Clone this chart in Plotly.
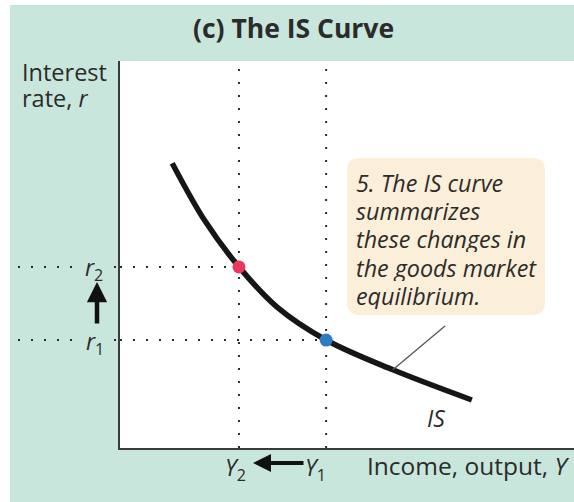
import plotly.graph_objects as go

# ---- data (axis units 0..10) ----
curve_x = [1.15, 1.87, 2.62, 3.46, 4.54, 6.01, 7.75]
curve_y = [7.36, 5.87, 4.68, 3.64, 2.79, 2.02, 1.24]
eq_x = [2.62, 4.54]          # Y2, Y1
eq_y = [4.68, 2.79]          # r2, r1
eq_colors = ["#e8385e", "#2c7cc4"]
box_lines = ["5. The IS curve", "summarizes", "these changes in",
             "the goods market", "equilibrium."]

W, H = 574, 502
L, R, T, B = 120, 0, 61, 54
PW, PH = W - L - R, H - T - B
GREEN = "#c9e6dc"
INK = "#2b2b2b"
FONT = "Open Sans"


def px(x):
    return (x - L) / PW


def py(y):
    return (H - B - y) / PH


fig = go.Figure()

DOT = "2px,11px"
# dotted guides (vertical, data x)
for xv in eq_x:
    fig.add_shape(type="line", xref="x", yref="paper", x0=xv, x1=xv, y0=0, y1=1,
                  line=dict(color=INK, width=2, dash=DOT), layer="below")
# dotted guides (horizontal, data y)
for i, yv in enumerate(eq_y):
    fig.add_shape(type="line", xref="paper", yref="y", x0=px(18), x1=px(80), y0=yv, y1=yv,
                  line=dict(color=INK, width=2, dash=DOT))
    fig.add_shape(type="line", xref="paper", yref="y", x0=px(114), x1=0, y0=yv, y1=yv,
                  line=dict(color=INK, width=2, dash=DOT))
    fig.add_shape(type="line", xref="x", yref="y", x0=0, x1=eq_x[i], y0=yv, y1=yv,
                  line=dict(color=INK, width=2, dash=DOT), layer="below")

# leader line
fig.add_shape(type="line", xref="x", yref="y", x0=curve_x[5], y0=curve_y[5],
              x1=(445 - L) / PW * 10, y1=(H - B - 326) / PH * 10,
              line=dict(color="#555555", width=1.3))

# IS curve
fig.add_trace(go.Scatter(x=curve_x, y=curve_y, mode="lines",
                         line=dict(color="#161616", width=5.5, shape="spline", smoothing=1.0),
                         hoverinfo="skip", showlegend=False))
# equilibrium points
fig.add_trace(go.Scatter(x=eq_x, y=eq_y, mode="markers",
                         marker=dict(color=eq_colors, size=13, line=dict(width=0)),
                         hoverinfo="skip", showlegend=False))

# rounded callout box
x0, x1, y0, y1 = px(347), px(545), py(158), py(315)
rx, ry = 13 / PW, 13 / PH
path = (f"M {x0+rx},{y0} L {x1-rx},{y0} Q {x1},{y0} {x1},{y0-ry} "
        f"L {x1},{y1+ry} Q {x1},{y1} {x1-rx},{y1} "
        f"L {x0+rx},{y1} Q {x0},{y1} {x0},{y1+ry} "
        f"L {x0},{y0-ry} Q {x0},{y0} {x0+rx},{y0} Z")
fig.add_shape(type="path", xref="paper", yref="paper", path=path,
              fillcolor="#fcefd9", line=dict(width=0))

# white outer borders
fig.add_shape(type="rect", xref="paper", yref="paper", x0=px(0), x1=px(10), y0=py(H), y1=py(0),
              fillcolor="white", line=dict(width=0))
fig.add_shape(type="rect", xref="paper", yref="paper", x0=px(0), x1=px(W), y0=py(5), y1=py(0),
              fillcolor="white", line=dict(width=0))

ann = []


def txt(x, y, s, size=23, anchor="left", weight=None, height=None):
    f = dict(family=FONT, size=size, color=INK)
    if weight:
        f["weight"] = weight
    a = dict(xref="paper", yref="paper", x=px(x), y=py(y), text=s, showarrow=False,
             xanchor=anchor, yanchor="middle", font=f, borderpad=0)
    if height:
        a["height"] = height
    ann.append(a)


txt(293, 28, "(c) The IS Curve", size=26.5, anchor="center", weight="bold")
txt(21, 72, "Interest", size=23.5, height=24)
txt(21, 98, "rate, <i>r</i>", size=23.5, height=24)
for i, line in enumerate(box_lines):
    txt(355, 183 + i * 28.2, f"<i>{line}</i>", size=23.3, height=26)
txt(436, 418, "<i>IS</i>", size=23, anchor="center")
txt(104, 268, "<i>r</i><sub>2</sub>", size=23, anchor="right")
txt(105, 342, "<i>r</i><sub>1</sub>", size=23, anchor="right")
txt(224, 468, "<i>Y</i><sub>2</sub>", size=23)
txt(304, 468, "<i>Y</i><sub>1</sub>", size=23)
txt(366, 465, "Income, output, <i>Y</i>", size=24.5)

# arrows
ann.append(dict(xref="paper", yref="paper", x=px(253), y=py(463), ax=52, ay=0,
                axref="pixel", ayref="pixel", showarrow=True, arrowhead=2, arrowsize=0.9,
                arrowwidth=4, arrowcolor="#111111", text=""))
ann.append(dict(xref="paper", yref="paper", x=px(97), y=py(282), ax=0, ay=43,
                showarrow=True, arrowhead=2, arrowsize=0.9,
                arrowwidth=4.5, arrowcolor="#111111", text=""))

fig.update_layout(
    width=W, height=H,
    margin=dict(l=L, r=R, t=T, b=B, pad=0),
    paper_bgcolor=GREEN, plot_bgcolor="white",
    annotations=ann,
    xaxis=dict(range=[0, 10], showgrid=False, zeroline=False, showticklabels=False,
               showline=True, linecolor="#3a3a3a", linewidth=2, ticks="", fixedrange=True),
    yaxis=dict(range=[0, 10], showgrid=False, zeroline=False, showticklabels=False,
               showline=True, linecolor="#3a3a3a", linewidth=2, ticks="", fixedrange=True),
    showlegend=False,
)

fig.write_html("out.html", config=dict(displayModeBar=False),
               post_script="document.body.style.margin='0px';")
